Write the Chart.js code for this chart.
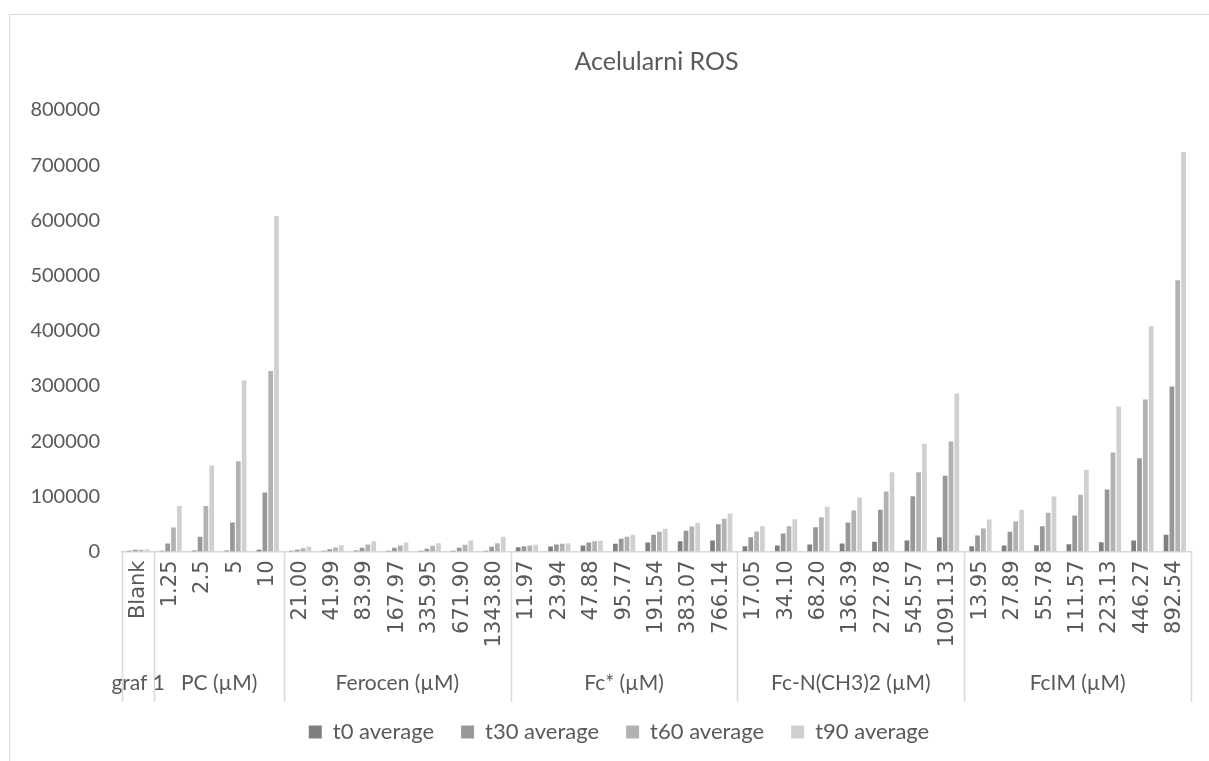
<!DOCTYPE html>
<html>
<head>
<meta charset="utf-8">
<script src="https://cdn.jsdelivr.net/npm/chart.js@4.4.1/dist/chart.umd.min.js"></script>
<style>
  html, body { margin: 0; padding: 0; background: #ffffff; overflow: hidden; width: 1209px; height: 761px; }
  #frame { position: absolute; left: 9px; top: 14px; width: 1300px; height: 800px; border: 1px solid #d9d9d9; box-sizing: border-box; }
  #wrap { position: absolute; left: 0; top: 0; width: 1238px; height: 761px; }
</style>
</head>
<body>
<div id="frame"></div>
<div id="wrap"><canvas id="c" width="1238" height="761"></canvas></div>
<script>
// ---- data ----
const categories = ['Blank',
  '1.25', '2.5', '5', '10',
  '21.00', '41.99', '83.99', '167.97', '335.95', '671.90', '1343.80',
  '11.97', '23.94', '47.88', '95.77', '191.54', '383.07', '766.14',
  '17.05', '34.10', '68.20', '136.39', '272.78', '545.57', '1091.13',
  '13.95', '27.89', '55.78', '111.57', '223.13', '446.27', '892.54'];
const groupNames = ['graf 1', 'PC (µM)', 'Ferocen (µM)', 'Fc* (µM)', 'Fc-N(CH3)2 (µM)', 'FcIM (µM)'];
const groupSizes = [1, 4, 7, 7, 7, 7];
const seriesNames = ['t0 average', 't30 average', 't60 average', 't90 average'];
const t0 = [1500,
  1500, 1800, 2000, 3000,
  1200, 1200, 1800, 1200, 1200, 1300, 1300,
  7800, 9100, 10900, 14000, 16300, 18700, 19900,
  9600, 10900, 12700, 14500, 17600, 19900, 25900,
  9600, 10900, 11400, 13200, 16900, 19900, 30300];
const t30 = [3000,
  14700, 26900, 52500, 106800,
  3000, 4200, 6700, 6700, 4900, 6700, 8500,
  9600, 12700, 16300, 23000, 30300, 37500, 49500,
  25900, 32600, 44000, 52500, 75600, 100200, 137200,
  29000, 35700, 45800, 65200, 112300, 169100, 299000];
const t60 = [3200,
  43300, 82400, 163600, 327200,
  6000, 7200, 12700, 10900, 10300, 12100, 15000,
  10900, 14000, 18700, 26600, 35700, 45300, 59300,
  36200, 45800, 62200, 74300, 108700, 143700, 199300,
  41700, 54400, 70100, 102700, 179400, 275400, 491600];
const t90 = [3800,
  82400, 155700, 310000, 608000,
  8500, 11400, 18700, 16300, 15000, 19900, 26600,
  12100, 15000, 19400, 30300, 41100, 52000, 68900,
  45800, 58500, 81000, 97800, 143700, 195200, 286300,
  58000, 75600, 99700, 148000, 262700, 408300, 724000];
const yMax = 800000;
const yStep = 100000;

// ---- styles ----
const colors = ['#7f7f7f', '#989898', '#b2b2b2', '#d0d0d0'];
const textColor = '#595959';
const lineColor = '#d9d9d9';
const uiFont = 'Lato, "Open Sans", sans-serif';

const groupAxisPlugin = {
  id: 'groupAxis',
  afterDraw(chart) {
    const x = chart.scales.x;
    const ctx = chart.ctx;
    const half = (x.getPixelForValue(1) - x.getPixelForValue(0)) / 2;
    const yTop = x.top;
    const yBottom = 702;
    ctx.save();
    ctx.strokeStyle = lineColor;
    ctx.lineWidth = 1.5;
    let idx = 0;
    const bounds = [x.getPixelForValue(0) - half];
    groupSizes.forEach(n => { idx += n; bounds.push(x.getPixelForValue(idx - 1) + half); });
    bounds.forEach(b => {
      ctx.beginPath();
      ctx.moveTo(Math.round(b) + 0.5, yTop);
      ctx.lineTo(Math.round(b) + 0.5, yBottom);
      ctx.stroke();
    });
    ctx.fillStyle = textColor;
    ctx.font = '21px ' + uiFont;
    ctx.textAlign = 'center';
    ctx.textBaseline = 'middle';
    groupNames.forEach((name, i) => {
      ctx.fillText(name, (bounds[i] + bounds[i + 1]) / 2, 683);
    });
    ctx.restore();
  }
};

const datasets = [t0, t30, t60, t90].map((d, i) => ({
  label: seriesNames[i],
  data: d,
  backgroundColor: colors[i],
  borderWidth: 0,
  categoryPercentage: 0.72,
  barPercentage: 0.81
}));

new Chart(document.getElementById('c'), {
  type: 'bar',
  data: { labels: categories, datasets },
  options: {
    responsive: false,
    animation: false,
    devicePixelRatio: 1,
    layout: { padding: { left: 0, right: 0, top: 0, bottom: 8 } },
    plugins: {
      title: {
        display: true,
        text: 'Acelularni ROS',
        fullSize: false,
        color: textColor,
        font: { family: uiFont, size: 25, weight: 'normal' },
        padding: { top: 47, bottom: 33 }
      },
      legend: {
        position: 'bottom',
        labels: {
          color: textColor,
          font: { family: uiFont, size: 22 },
          boxWidth: 13,
          boxHeight: 13,
          padding: 27
        }
      },
      tooltip: { enabled: false }
    },
    scales: {
      x: {
        grid: { display: false, drawTicks: false },
        border: { display: true, color: lineColor, width: 1.5 },
        ticks: {
          autoSkip: false,
          minRotation: 90,
          maxRotation: 90,
          padding: 9,
          color: textColor,
          font: { family: '"DejaVu Sans", sans-serif', size: 21 }
        },
        afterFit(scale) { scale.height = 142.5; }
      },
      y: {
        min: 0,
        max: yMax,
        grid: { display: false, drawTicks: false },
        border: { display: false },
        ticks: {
          stepSize: yStep,
          padding: 22,
          color: textColor,
          font: { family: uiFont, size: 20 },
          callback: v => String(v)
        },
        afterFit(scale) { scale.width = 122; }
      },
      spacer: {
        type: 'linear',
        position: 'right',
        display: true,
        grid: { display: false, drawTicks: false },
        border: { display: false },
        ticks: { display: false },
        afterFit(scale) { scale.width = 47; }
      }
    }
  },
  plugins: [groupAxisPlugin]
});
</script>
</body>
</html>
